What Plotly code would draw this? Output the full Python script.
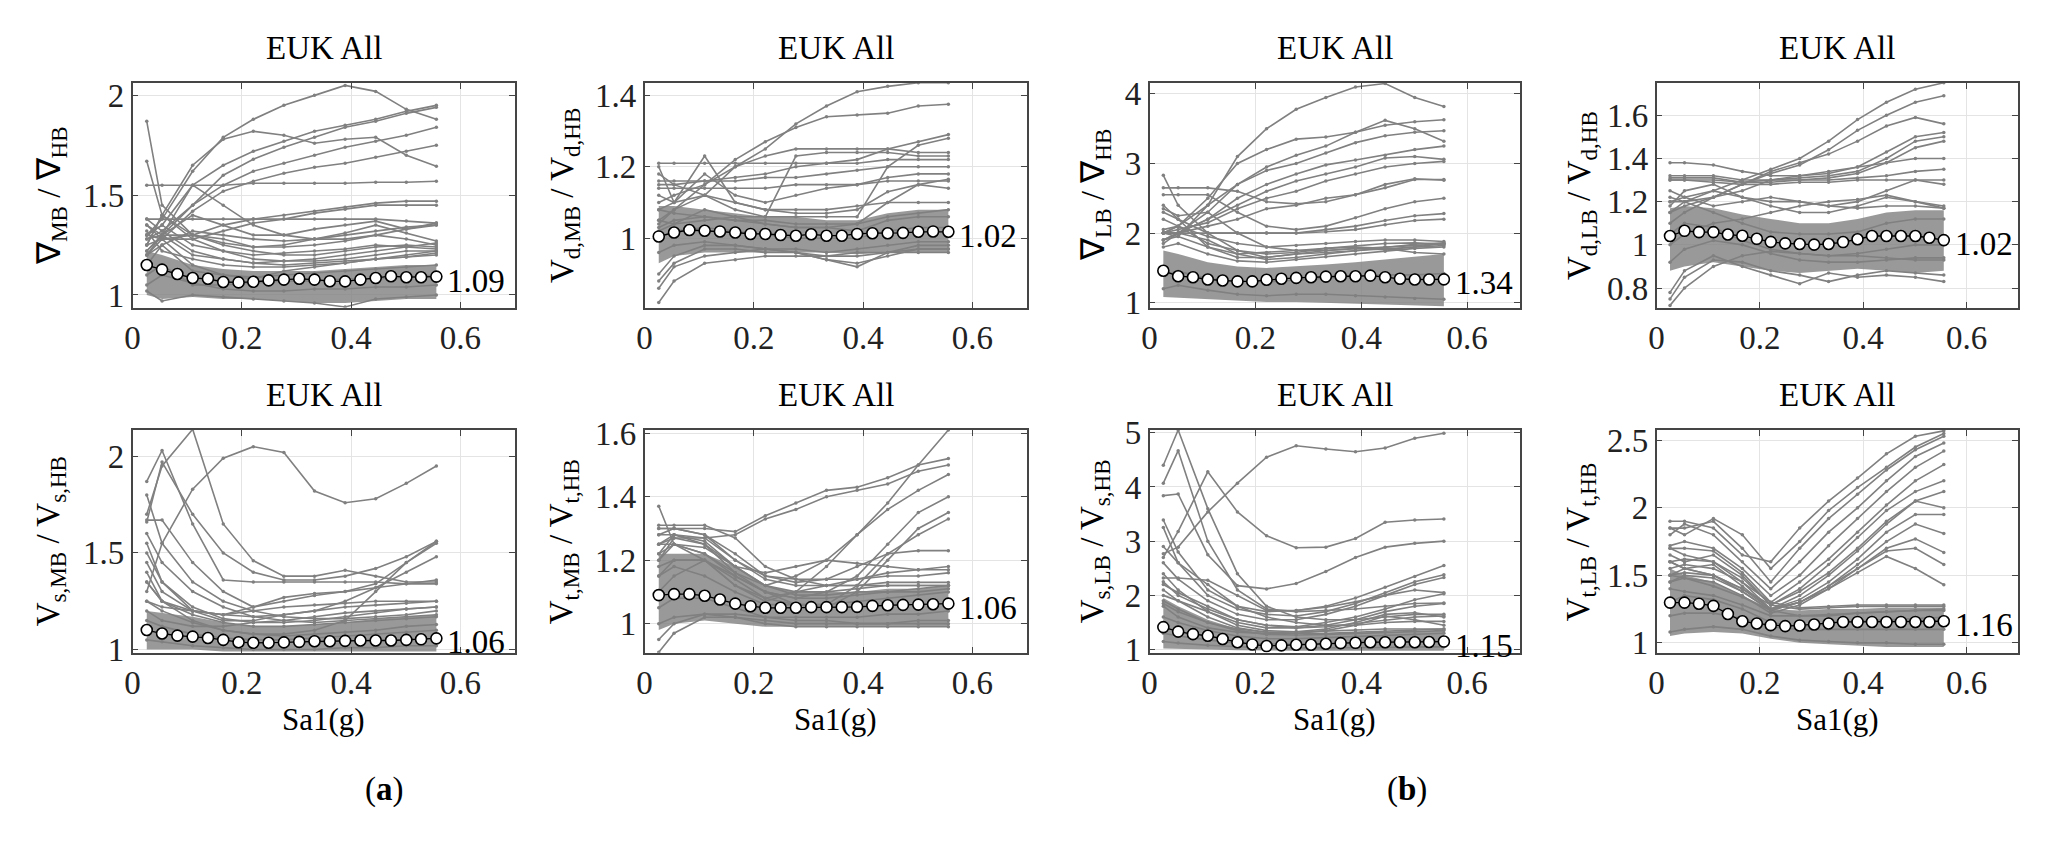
import plotly.graph_objects as go

# Sa1(g) levels of the median curve, and the subset used for the grey records
SA1 = [0.026, 0.054, 0.082, 0.110, 0.138, 0.166, 0.194, 0.221, 0.249, 0.277,
       0.305, 0.333, 0.361, 0.389, 0.417, 0.445, 0.473, 0.501, 0.528, 0.556]
SA1_SUB = [0.026, 0.054, 0.110, 0.166, 0.221, 0.277, 0.333, 0.389, 0.445, 0.501, 0.556]

# ---- (a) top-left: nabla MB / nabla HB
p1_median = [1.150, 1.127, 1.105, 1.085, 1.081, 1.065, 1.063, 1.066, 1.073, 1.077,
             1.081, 1.077, 1.069, 1.068, 1.077, 1.085, 1.094, 1.089, 1.089, 1.092]
p1_lo = [1.00, 0.98, 0.99, 0.98, 0.98, 0.97, 0.96, 0.96, 0.97, 0.98, 0.98]
p1_hi = [1.22, 1.20, 1.15, 1.13, 1.12, 1.12, 1.12, 1.13, 1.14, 1.15, 1.15]
p1_curves = [
    [1.30, 1.38, 1.62, 1.79, 1.88, 1.95, 2.00, 2.05, 2.02, 1.93, 1.88],
    [1.30, 1.35, 1.55, 1.65, 1.72, 1.77, 1.82, 1.85, 1.88, 1.92, 1.95],
    [1.28, 1.32, 1.45, 1.60, 1.68, 1.74, 1.79, 1.84, 1.87, 1.91, 1.94],
    [1.25, 1.40, 1.65, 1.78, 1.82, 1.80, 1.76, 1.78, 1.79, 1.70, 1.645],
    [1.22, 1.30, 1.45, 1.55, 1.62, 1.66, 1.70, 1.74, 1.77, 1.80, 1.84],
    [1.20, 1.28, 1.42, 1.52, 1.57, 1.61, 1.64, 1.66, 1.69, 1.72, 1.75],
    [1.55, 1.55, 1.55, 1.55, 1.56, 1.56, 1.56, 1.56, 1.565, 1.565, 1.57],
    [1.35, 1.30, 1.30, 1.35, 1.38, 1.40, 1.42, 1.44, 1.46, 1.47, 1.47],
    [1.30, 1.28, 1.28, 1.32, 1.36, 1.38, 1.41, 1.43, 1.45, 1.45, 1.45],
    [1.38, 1.38, 1.38, 1.38, 1.38, 1.38, 1.38, 1.38, 1.38, 1.37, 1.36],
    [1.28, 1.30, 1.40, 1.35, 1.30, 1.30, 1.33, 1.35, 1.37, 1.33, 1.35],
    [1.87, 1.45, 1.30, 1.25, 1.22, 1.20, 1.20, 1.22, 1.24, 1.25, 1.24],
    [1.67, 1.40, 1.28, 1.22, 1.18, 1.17, 1.17, 1.18, 1.20, 1.22, 1.22],
    [1.20, 1.30, 1.55, 1.45, 1.35, 1.30, 1.28, 1.28, 1.30, 1.28, 1.25],
    [1.25, 1.28, 1.30, 1.28, 1.24, 1.25, 1.28, 1.31, 1.35, 1.31, 1.27],
    [1.30, 1.35, 1.25, 1.22, 1.20, 1.21, 1.22, 1.23, 1.25, 1.24, 1.23],
    [1.38, 1.32, 1.22, 1.18, 1.16, 1.17, 1.18, 1.20, 1.22, 1.24, 1.26],
    [1.25, 1.40, 1.30, 1.26, 1.24, 1.24, 1.25, 1.27, 1.30, 1.33, 1.36],
    [1.20, 1.25, 1.32, 1.30, 1.28, 1.27, 1.28, 1.30, 1.32, 1.34, 1.35],
    [1.32, 1.22, 1.18, 1.15, 1.14, 1.14, 1.15, 1.16, 1.18, 1.19, 1.21],
    [1.22, 1.30, 1.20, 1.18, 1.16, 1.15, 1.16, 1.17, 1.18, 1.20, 1.22],
    [1.15, 1.25, 1.12, 1.10, 1.09, 1.10, 1.11, 1.12, 1.13, 1.14, 1.15],
    [1.05, 1.10, 1.06, 1.03, 1.02, 1.02, 1.03, 1.03, 1.04, 1.04, 1.05],
    [1.02, 0.97, 1.00, 0.99, 0.98, 0.97, 0.96, 0.94, 0.98, 0.99, 1.00],
    [1.35, 1.28, 1.15, 1.10, 1.08, 1.12, 1.14, 1.16, 1.18, 1.19, 1.20],
    [1.10, 1.15, 1.05, 1.05, 1.06, 1.07, 1.07, 1.08, 1.08, 1.09, 1.10],
]

# ---- (a) top-right: Vd MB / Vd HB
p2_median = [1.005, 1.016, 1.023, 1.021, 1.019, 1.016, 1.012, 1.012, 1.009, 1.007,
             1.011, 1.007, 1.007, 1.012, 1.014, 1.014, 1.015, 1.018, 1.019, 1.018]
p2_lo = [0.93, 0.95, 0.96, 0.96, 0.96, 0.96, 0.96, 0.955, 0.96, 0.96, 0.96]
p2_hi = [1.09, 1.09, 1.08, 1.07, 1.06, 1.06, 1.05, 1.05, 1.07, 1.08, 1.08]
p2_curves = [
    [1.05, 1.08, 1.12, 1.20, 1.25, 1.32, 1.37, 1.41, 1.425, 1.435, 1.435],
    [1.04, 1.08, 1.15, 1.22, 1.27, 1.31, 1.34, 1.345, 1.35, 1.37, 1.375],
    [1.15, 1.15, 1.16, 1.17, 1.18, 1.20, 1.21, 1.22, 1.25, 1.27, 1.29],
    [1.02, 1.04, 1.05, 1.06, 1.06, 1.06, 1.06, 1.06, 1.20, 1.26, 1.28],
    [1.10, 1.12, 1.15, 1.20, 1.23, 1.25, 1.25, 1.25, 1.25, 1.24, 1.24],
    [1.21, 1.21, 1.21, 1.21, 1.21, 1.21, 1.21, 1.21, 1.22, 1.22, 1.22],
    [1.16, 1.16, 1.16, 1.16, 1.17, 1.17, 1.18, 1.19, 1.20, 1.20, 1.20],
    [1.14, 1.14, 1.14, 1.14, 1.14, 1.15, 1.15, 1.15, 1.16, 1.16, 1.16],
    [1.20, 1.10, 1.23, 1.10, 1.08, 1.07, 1.07, 1.08, 1.13, 1.15, 1.14],
    [1.03, 1.05, 1.06, 1.05, 1.04, 1.03, 1.03, 1.04, 1.10, 1.15, 1.165],
    [1.08, 1.10, 1.12, 1.08, 1.06, 1.23, 1.24, 1.24, 1.24, 1.23, 1.23],
    [1.18, 1.15, 1.12, 1.10, 1.08, 1.08, 1.08, 1.09, 1.10, 1.10, 1.10],
    [1.12, 1.10, 1.18, 1.12, 1.10, 1.12, 1.14, 1.15, 1.17, 1.18, 1.18],
    [0.82, 0.88, 0.93, 0.94, 0.95, 0.95, 0.95, 0.96, 0.96, 0.96, 0.96],
    [0.86, 0.92, 0.95, 0.96, 0.97, 0.96, 0.94, 0.93, 0.95, 0.97, 0.97],
    [0.88, 0.93, 0.97, 0.97, 0.96, 0.96, 0.95, 0.95, 0.96, 0.97, 0.97],
    [0.90, 0.95, 0.98, 0.98, 0.97, 0.96, 0.94, 0.92, 0.96, 0.98, 0.98],
    [1.08, 1.07, 1.06, 1.05, 1.05, 1.04, 1.04, 1.04, 1.06, 1.07, 1.08],
    [1.00, 1.02, 1.03, 1.02, 1.01, 1.00, 1.00, 1.00, 1.02, 1.03, 1.03],
    [0.96, 0.98, 0.99, 0.98, 0.97, 0.97, 0.96, 0.97, 0.98, 0.99, 0.99],
    [1.05, 1.04, 1.08, 1.06, 1.04, 1.03, 1.03, 1.02, 1.05, 1.06, 1.06],
]

# ---- (b) top-left: nabla LB / nabla HB
p3_median = [1.458, 1.380, 1.366, 1.333, 1.319, 1.306, 1.306, 1.329, 1.343, 1.356,
             1.366, 1.375, 1.380, 1.380, 1.389, 1.366, 1.343, 1.333, 1.333, 1.335]
p3_lo = [1.08, 1.07, 1.05, 1.02, 1.01, 1.01, 1.00, 0.99, 0.97, 0.96, 0.95]
p3_hi = [1.75, 1.70, 1.58, 1.52, 1.50, 1.52, 1.55, 1.58, 1.62, 1.65, 1.70]
p3_curves = [
    [2.00, 1.95, 2.40, 3.10, 3.50, 3.78, 3.95, 4.10, 4.15, 3.95, 3.82],
    [2.00, 2.10, 2.50, 3.00, 3.20, 3.35, 3.38, 3.45, 3.55, 3.60, 3.63],
    [1.90, 2.00, 2.30, 2.70, 2.95, 3.12, 3.25, 3.45, 3.62, 3.50, 3.32],
    [2.00, 2.10, 2.40, 2.70, 2.90, 3.00, 3.15, 3.30, 3.40, 3.45, 3.47],
    [1.90, 2.00, 2.20, 2.50, 2.70, 2.85, 2.98, 3.05, 3.12, 3.20, 3.25],
    [1.85, 2.00, 2.20, 2.40, 2.60, 2.75, 2.85, 2.95, 3.08, 3.10, 3.06],
    [2.00, 2.05, 2.15, 2.35, 2.50, 2.60, 2.75, 2.85, 2.95, 3.00, 3.03],
    [2.00, 2.00, 2.10, 2.20, 2.35, 2.40, 2.50, 2.55, 2.65, 2.77, 2.77],
    [2.65, 2.65, 2.65, 2.60, 2.45, 2.42, 2.45, 2.55, 2.70, 2.78, 2.76],
    [2.55, 2.55, 2.55, 2.30, 2.10, 2.05, 2.10, 2.22, 2.35, 2.45, 2.50],
    [2.00, 2.00, 2.00, 2.00, 2.00, 2.00, 2.05, 2.10, 2.18, 2.25, 2.28],
    [2.30, 2.20, 2.00, 2.00, 2.00, 2.00, 2.02, 2.05, 2.12, 2.18, 2.20],
    [2.83, 2.40, 2.00, 1.75, 1.65, 1.70, 1.72, 1.75, 1.78, 1.80, 1.85],
    [2.35, 2.25, 2.30, 2.00, 1.80, 1.75, 1.75, 1.78, 1.80, 1.82, 1.85],
    [2.20, 2.10, 1.95, 1.85, 1.80, 1.82, 1.85, 1.88, 1.90, 1.90, 1.88],
    [1.80, 1.85, 1.70, 1.60, 1.58, 1.62, 1.66, 1.70, 1.74, 1.78, 1.80],
    [2.40, 2.20, 1.80, 1.70, 1.72, 1.75, 1.78, 1.82, 1.85, 1.86, 1.84],
    [2.00, 2.00, 1.90, 1.70, 1.62, 1.65, 1.70, 1.75, 1.80, 1.84, 1.86],
    [1.90, 1.95, 1.80, 1.65, 1.65, 1.70, 1.75, 1.78, 1.76, 1.80, 1.82],
    [1.40, 1.45, 1.35, 1.30, 1.30, 1.32, 1.35, 1.38, 1.40, 1.40, 1.42],
    [1.20, 1.25, 1.18, 1.12, 1.10, 1.12, 1.12, 1.10, 1.08, 1.06, 1.05],
    [2.05, 2.10, 1.85, 1.75, 1.70, 1.72, 1.78, 1.80, 1.78, 1.72, 1.70],
]

# ---- (b) top-right: Vd LB / Vd HB
p4_median = [1.041, 1.065, 1.059, 1.059, 1.048, 1.042, 1.028, 1.014, 1.007, 1.004,
             1.001, 1.004, 1.013, 1.026, 1.041, 1.041, 1.041, 1.041, 1.033, 1.022]
p4_lo = [0.88, 0.90, 0.92, 0.90, 0.88, 0.87, 0.88, 0.89, 0.88, 0.87, 0.88]
p4_hi = [1.17, 1.18, 1.17, 1.14, 1.12, 1.10, 1.10, 1.12, 1.15, 1.16, 1.16]
p4_curves = [
    [1.20, 1.22, 1.25, 1.30, 1.35, 1.40, 1.48, 1.58, 1.66, 1.72, 1.75],
    [1.15, 1.18, 1.22, 1.28, 1.33, 1.37, 1.44, 1.53, 1.60, 1.66, 1.69],
    [1.10, 1.15, 1.22, 1.28, 1.34, 1.38, 1.42, 1.48, 1.55, 1.59, 1.56],
    [1.38, 1.38, 1.37, 1.34, 1.32, 1.32, 1.33, 1.36, 1.43, 1.50, 1.52],
    [1.32, 1.32, 1.32, 1.30, 1.30, 1.31, 1.32, 1.34, 1.40, 1.48, 1.50],
    [1.30, 1.30, 1.30, 1.29, 1.30, 1.30, 1.31, 1.33, 1.38, 1.45, 1.48],
    [1.20, 1.20, 1.22, 1.25, 1.30, 1.32, 1.34, 1.36, 1.38, 1.40, 1.40],
    [1.31, 1.31, 1.31, 1.29, 1.29, 1.30, 1.30, 1.31, 1.32, 1.34, 1.35],
    [1.30, 1.30, 1.29, 1.28, 1.28, 1.29, 1.29, 1.30, 1.30, 1.30, 1.30],
    [1.15, 1.20, 1.25, 1.22, 1.20, 1.20, 1.18, 1.20, 1.25, 1.30, 1.28],
    [1.25, 1.22, 1.18, 1.20, 1.22, 1.20, 1.18, 1.17, 1.18, 1.18, 1.17],
    [1.18, 1.25, 1.28, 1.22, 1.18, 1.15, 1.15, 1.18, 1.22, 1.20, 1.17],
    [0.72, 0.80, 0.90, 0.95, 0.97, 0.96, 0.95, 0.95, 0.94, 0.93, 0.93],
    [0.75, 0.85, 0.93, 0.92, 0.88, 0.86, 0.83, 0.86, 0.88, 0.87, 0.86],
    [0.78, 0.88, 0.95, 0.90, 0.86, 0.82, 0.87, 0.85, 0.86, 0.85, 0.83],
    [1.00, 1.05, 1.10, 1.12, 1.15, 1.18, 1.20, 1.21, 1.23, 1.20, 1.18],
    [1.22, 1.20, 1.15, 1.10, 1.06, 1.05, 1.05, 1.06, 1.10, 1.12, 1.12],
    [1.05, 1.10, 1.08, 1.02, 0.98, 0.96, 0.95, 0.96, 0.98, 1.00, 1.00],
    [0.92, 0.98, 1.02, 1.00, 0.96, 0.93, 0.92, 0.92, 0.93, 0.94, 0.94],
]

# ---- (a) bottom-left: Vs MB / Vs HB
p5_median = [1.101, 1.083, 1.072, 1.067, 1.060, 1.050, 1.038, 1.035, 1.035, 1.037,
             1.040, 1.043, 1.043, 1.045, 1.047, 1.047, 1.047, 1.050, 1.053, 1.058]
p5_lo = [1.00, 1.00, 1.00, 0.99, 0.99, 0.99, 0.99, 0.99, 0.99, 0.99, 0.99]
p5_hi = [1.20, 1.19, 1.17, 1.14, 1.12, 1.12, 1.13, 1.14, 1.16, 1.17, 1.18]
p5_curves = [
    [1.30, 1.55, 1.83, 1.99, 2.05, 2.02, 1.82, 1.76, 1.78, 1.86, 1.95],
    [1.70, 1.95, 2.14, 1.65, 1.46, 1.38, 1.38, 1.41, 1.38, 1.35, 1.35],
    [1.87, 2.03, 1.65, 1.36, 1.35, 1.35, 1.35, 1.35, 1.35, 1.34, 1.34],
    [1.66, 1.97, 1.70, 1.50, 1.40, 1.36, 1.36, 1.38, 1.42, 1.48, 1.56],
    [1.67, 1.67, 1.45, 1.30, 1.22, 1.25, 1.28, 1.30, 1.34, 1.45, 1.55],
    [1.40, 1.25, 1.15, 1.10, 1.08, 1.08, 1.10, 1.15, 1.30, 1.45, 1.56],
    [1.55, 1.35, 1.20, 1.15, 1.15, 1.18, 1.20, 1.25, 1.32, 1.40, 1.48],
    [1.45, 1.30, 1.20, 1.18, 1.22, 1.27, 1.29, 1.30, 1.32, 1.34, 1.36],
    [1.35, 1.25, 1.20, 1.18, 1.20, 1.22, 1.23, 1.24, 1.25, 1.25, 1.25],
    [1.80, 1.55, 1.35, 1.25, 1.20, 1.17, 1.16, 1.16, 1.17, 1.18, 1.20],
    [1.60, 1.45, 1.30, 1.22, 1.17, 1.15, 1.14, 1.15, 1.16, 1.17, 1.18],
    [1.25, 1.22, 1.20, 1.18, 1.17, 1.18, 1.20, 1.22, 1.23, 1.24, 1.25],
    [1.50, 1.35, 1.22, 1.16, 1.14, 1.14, 1.15, 1.17, 1.19, 1.21, 1.22],
    [1.20, 1.15, 1.12, 1.12, 1.14, 1.15, 1.17, 1.19, 1.20, 1.21, 1.22],
    [1.35, 1.25, 1.18, 1.14, 1.12, 1.12, 1.13, 1.14, 1.15, 1.16, 1.17],
    [1.15, 1.12, 1.08, 1.06, 1.05, 1.05, 1.06, 1.07, 1.08, 1.09, 1.10],
    [1.05, 1.04, 1.02, 1.01, 1.00, 1.00, 1.00, 1.01, 1.01, 1.02, 1.02],
    [1.25, 1.20, 1.14, 1.10, 1.08, 1.07, 1.08, 1.09, 1.10, 1.12, 1.13],
]

# ---- (a) bottom-right: Vt MB / Vt HB
p6_median = [1.090, 1.093, 1.093, 1.088, 1.076, 1.063, 1.055, 1.050, 1.050, 1.050,
             1.052, 1.052, 1.052, 1.053, 1.056, 1.058, 1.059, 1.060, 1.061, 1.063]
p6_lo = [0.98, 1.00, 1.01, 1.00, 0.99, 0.99, 0.99, 0.99, 0.99, 0.99, 0.99]
p6_hi = [1.22, 1.22, 1.22, 1.18, 1.12, 1.10, 1.10, 1.10, 1.11, 1.11, 1.12]
p6_curves = [
    [1.30, 1.30, 1.30, 1.29, 1.34, 1.38, 1.42, 1.43, 1.46, 1.50, 1.52],
    [1.28, 1.28, 1.27, 1.28, 1.33, 1.36, 1.40, 1.42, 1.44, 1.48, 1.50],
    [1.15, 1.20, 1.20, 1.12, 1.07, 1.10, 1.18, 1.28, 1.38, 1.50, 1.61],
    [1.25, 1.28, 1.26, 1.18, 1.12, 1.15, 1.20, 1.28, 1.36, 1.42, 1.47],
    [1.20, 1.25, 1.22, 1.15, 1.10, 1.08, 1.10, 1.15, 1.25, 1.35, 1.40],
    [1.22, 1.28, 1.25, 1.16, 1.10, 1.06, 1.05, 1.10, 1.20, 1.30, 1.35],
    [1.18, 1.20, 1.20, 1.14, 1.08, 1.06, 1.06, 1.12, 1.22, 1.28, 1.33],
    [1.30, 1.30, 1.28, 1.20, 1.15, 1.13, 1.14, 1.18, 1.22, 1.23, 1.23],
    [1.10, 1.15, 1.20, 1.12, 1.08, 1.10, 1.12, 1.14, 1.16, 1.17, 1.18],
    [1.37, 1.25, 1.20, 1.15, 1.10, 1.08, 1.08, 1.09, 1.10, 1.11, 1.12],
    [1.28, 1.30, 1.28, 1.22, 1.15, 1.14, 1.14, 1.14, 1.15, 1.15, 1.16],
    [1.25, 1.27, 1.27, 1.20, 1.14, 1.12, 1.12, 1.12, 1.13, 1.13, 1.13],
    [1.22, 1.25, 1.22, 1.16, 1.12, 1.10, 1.10, 1.11, 1.12, 1.12, 1.12],
    [1.20, 1.27, 1.25, 1.18, 1.16, 1.18, 1.20, 1.19, 1.18, 1.17, 1.17],
    [0.91, 0.97, 1.02, 1.02, 1.01, 1.00, 1.00, 1.00, 1.00, 1.00, 1.00],
    [0.95, 1.00, 1.03, 1.03, 1.02, 1.01, 1.01, 1.00, 1.00, 1.01, 1.01],
    [1.31, 1.31, 1.31, 1.27, 1.18, 1.14, 1.12, 1.12, 1.12, 1.12, 1.12],
    [1.15, 1.18, 1.15, 1.10, 1.06, 1.06, 1.06, 1.07, 1.08, 1.09, 1.10],
    [1.05, 1.08, 1.08, 1.05, 1.02, 1.02, 1.02, 1.02, 1.03, 1.03, 1.04],
    [1.25, 1.25, 1.24, 1.18, 1.12, 1.09, 1.09, 1.10, 1.10, 1.10, 1.11],
    [1.00, 1.02, 1.03, 1.02, 1.00, 0.99, 0.99, 0.99, 0.99, 0.99, 0.99],
]

# ---- (b) bottom-left: Vs LB / Vs HB
p7_median = [1.415, 1.332, 1.285, 1.255, 1.196, 1.136, 1.095, 1.065, 1.077, 1.089,
             1.089, 1.107, 1.119, 1.125, 1.136, 1.136, 1.136, 1.136, 1.140, 1.148]
p7_lo = [1.02, 1.01, 1.00, 0.99, 0.98, 0.98, 0.98, 0.98, 0.98, 0.98, 0.98]
p7_hi = [1.95, 1.80, 1.55, 1.38, 1.30, 1.28, 1.28, 1.30, 1.32, 1.33, 1.35]
p7_curves = [
    [2.77, 2.89, 3.54, 4.07, 4.55, 4.76, 4.70, 4.65, 4.72, 4.90, 4.99],
    [4.40, 5.05, 3.60, 2.40, 1.80, 1.60, 1.55, 1.55, 1.60, 1.65, 1.65],
    [4.07, 4.67, 3.00, 2.10, 1.75, 1.70, 1.72, 1.75, 1.80, 1.85, 1.86],
    [2.70, 3.18, 4.28, 3.54, 3.10, 2.88, 2.89, 3.05, 3.35, 3.39, 3.41],
    [3.84, 3.87, 2.75, 2.18, 2.12, 2.22, 2.44, 2.70, 2.89, 2.96, 3.00],
    [3.39, 2.80, 2.10, 1.80, 1.70, 1.72, 1.80, 1.95, 2.15, 2.35, 2.55],
    [3.25, 2.60, 2.00, 1.75, 1.65, 1.62, 1.70, 1.85, 2.05, 2.25, 2.38],
    [2.60, 2.30, 1.90, 1.65, 1.55, 1.55, 1.65, 1.80, 2.00, 2.20, 2.33],
    [2.32, 2.32, 2.28, 2.00, 1.72, 1.72, 1.78, 1.88, 2.00, 2.10, 2.05],
    [2.20, 2.05, 1.80, 1.55, 1.45, 1.42, 1.50, 1.60, 1.75, 1.92, 2.03],
    [2.00, 1.90, 1.70, 1.50, 1.40, 1.40, 1.45, 1.55, 1.70, 1.80, 1.85],
    [1.85, 1.70, 1.50, 1.38, 1.32, 1.33, 1.38, 1.50, 1.65, 1.68, 1.60],
    [1.80, 1.60, 1.40, 1.32, 1.30, 1.30, 1.35, 1.45, 1.62, 1.55, 1.45],
    [2.90, 2.60, 2.20, 1.80, 1.60, 1.50, 1.45, 1.45, 1.50, 1.52, 1.52],
    [2.40, 2.10, 1.70, 1.45, 1.35, 1.33, 1.34, 1.36, 1.38, 1.38, 1.38],
    [1.90, 1.75, 1.50, 1.35, 1.28, 1.27, 1.28, 1.30, 1.32, 1.34, 1.35],
    [2.25, 2.00, 1.75, 1.55, 1.45, 1.40, 1.42, 1.48, 1.55, 1.60, 1.62],
    [1.60, 1.50, 1.35, 1.25, 1.20, 1.20, 1.22, 1.24, 1.26, 1.28, 1.30],
    [1.30, 1.25, 1.18, 1.12, 1.10, 1.10, 1.11, 1.12, 1.13, 1.14, 1.15],
    [1.15, 1.12, 1.08, 1.05, 1.03, 1.03, 1.03, 1.04, 1.04, 1.05, 1.05],
    [2.10, 1.90, 1.60, 1.40, 1.32, 1.30, 1.30, 1.32, 1.34, 1.36, 1.38],
]

# ---- (b) bottom-right: Vt LB / Vt HB
p8_median = [1.298, 1.298, 1.290, 1.274, 1.214, 1.160, 1.143, 1.131, 1.124, 1.129,
             1.136, 1.143, 1.155, 1.155, 1.155, 1.155, 1.155, 1.155, 1.155, 1.160]
p8_lo = [1.05, 1.07, 1.08, 1.07, 1.03, 1.00, 0.99, 0.98, 0.97, 0.97, 0.97]
p8_hi = [1.55, 1.50, 1.45, 1.35, 1.25, 1.24, 1.25, 1.25, 1.26, 1.26, 1.26]
p8_curves = [
    [1.90, 1.90, 1.85, 1.65, 1.60, 1.85, 2.05, 2.22, 2.40, 2.53, 2.57],
    [1.85, 1.85, 1.90, 1.70, 1.45, 1.70, 1.92, 2.10, 2.28, 2.43, 2.53],
    [1.80, 1.88, 1.80, 1.60, 1.40, 1.60, 1.82, 2.00, 2.20, 2.38, 2.48],
    [1.72, 1.75, 1.70, 1.55, 1.35, 1.50, 1.72, 1.92, 2.12, 2.30, 2.42],
    [1.70, 1.70, 1.68, 1.52, 1.30, 1.45, 1.62, 1.82, 2.02, 2.20, 2.32],
    [1.65, 1.60, 1.65, 1.50, 1.28, 1.40, 1.58, 1.78, 1.98, 2.12, 2.20],
    [1.60, 1.62, 1.60, 1.48, 1.28, 1.38, 1.52, 1.70, 1.90, 2.05, 2.12],
    [1.55, 1.58, 1.55, 1.45, 1.25, 1.35, 1.50, 1.68, 1.88, 2.05, 2.00],
    [1.60, 1.55, 1.58, 1.42, 1.25, 1.32, 1.45, 1.62, 1.82, 1.95, 1.95],
    [1.50, 1.55, 1.50, 1.40, 1.25, 1.30, 1.42, 1.58, 1.75, 1.88, 1.81],
    [1.45, 1.50, 1.48, 1.38, 1.24, 1.30, 1.40, 1.55, 1.70, 1.77, 1.67],
    [1.50, 1.52, 1.50, 1.38, 1.24, 1.30, 1.42, 1.55, 1.68, 1.70, 1.58],
    [1.45, 1.48, 1.45, 1.35, 1.22, 1.28, 1.40, 1.52, 1.64, 1.55, 1.43],
    [1.85, 1.80, 1.92, 1.80, 1.55, 1.75, 1.98, 2.15, 2.30, 2.45, 2.55],
    [1.60, 1.55, 1.50, 1.40, 1.28, 1.25, 1.26, 1.27, 1.27, 1.27, 1.27],
    [1.50, 1.48, 1.42, 1.34, 1.24, 1.20, 1.20, 1.22, 1.23, 1.24, 1.24],
    [1.70, 1.65, 1.60, 1.45, 1.30, 1.26, 1.27, 1.28, 1.28, 1.28, 1.28],
    [1.40, 1.38, 1.35, 1.28, 1.20, 1.20, 1.21, 1.22, 1.23, 1.24, 1.25],
    [1.20, 1.22, 1.22, 1.18, 1.12, 1.10, 1.10, 1.10, 1.10, 1.10, 1.10],
    [1.08, 1.10, 1.12, 1.10, 1.05, 1.02, 1.01, 1.00, 1.00, 0.99, 0.99],
    [1.30, 1.35, 1.32, 1.25, 1.15, 1.12, 1.14, 1.16, 1.17, 1.18, 1.19],
]

# text labels
y_titles = ['\u2207<sub>MB</sub> / \u2207<sub>HB</sub>', 'V<sub>d,MB</sub> / V<sub>d,HB</sub>',
            '\u2207<sub>LB</sub> / \u2207<sub>HB</sub>', 'V<sub>d,LB</sub> / V<sub>d,HB</sub>',
            'V<sub>s,MB</sub> / V<sub>s,HB</sub>', 'V<sub>t,MB</sub> / V<sub>t,HB</sub>',
            'V<sub>s,LB</sub> / V<sub>s,HB</sub>', 'V<sub>t,LB</sub> / V<sub>t,HB</sub>']
end_labels = ['1.09', '1.02', '1.34', '1.02', '1.06', '1.06', '1.15', '1.16']
y_ticks = [[1, 1.5, 2], [1, 1.2, 1.4], [1, 2, 3, 4], [0.8, 1, 1.2, 1.4, 1.6],
           [1, 1.5, 2], [1, 1.2, 1.4, 1.6], [1, 2, 3, 4, 5], [1, 1.5, 2, 2.5]]
y_ranges = [[0.937, 2.063], [0.806, 1.435], [0.93, 4.16], [0.71, 1.75],
            [0.983, 2.136], [0.908, 1.61], [0.94, 5.05], [0.926, 2.576]]

medians = [p1_median, p2_median, p3_median, p4_median, p5_median, p6_median, p7_median, p8_median]
lows = [p1_lo, p2_lo, p3_lo, p4_lo, p5_lo, p6_lo, p7_lo, p8_lo]
highs = [p1_hi, p2_hi, p3_hi, p4_hi, p5_hi, p6_hi, p7_hi, p8_hi]
curves = [p1_curves, p2_curves, p3_curves, p4_curves, p5_curves, p6_curves, p7_curves, p8_curves]

W, H = 2054, 846
# plot boxes in pixels
col_px = [(117, 501), (631, 1015), (1138, 1510), (1647, 2010)]
row_px = [(62, 295), (422, 653)]
ytitle_x = [35, 550, 1083, 1571]

FONT = 'Liberation Serif'
GREY = 'rgb(128,128,128)'

fig = go.Figure()
annotations = []
layout = {}

for i in range(8):
    r, c = divmod(i, 4)
    n = '' if i == 0 else str(i + 1)
    xa, ya = 'x' + n, 'y' + n

    # dense core of the records
    fig.add_trace(go.Scatter(x=SA1_SUB, y=lows[i], mode='lines', line=dict(width=0, color=GREY),
                             xaxis=xa, yaxis=ya, showlegend=False, hoverinfo='skip'))
    fig.add_trace(go.Scatter(x=SA1_SUB, y=highs[i], mode='lines', line=dict(width=0, color=GREY),
                             fill='tonexty', fillcolor='rgba(128,128,128,0.8)',
                             xaxis=xa, yaxis=ya, showlegend=False, hoverinfo='skip'))
    for cv in curves[i]:
        fig.add_trace(go.Scatter(x=SA1_SUB, y=cv, mode='lines+markers',
                                 line=dict(color=GREY, width=1.6),
                                 marker=dict(size=3.5, color=GREY),
                                 xaxis=xa, yaxis=ya, showlegend=False))
    fig.add_trace(go.Scatter(x=SA1, y=medians[i], mode='lines+markers',
                             line=dict(color='black', width=1.3),
                             marker=dict(size=11, color='white', line=dict(color='black', width=1.6)),
                             xaxis=xa, yaxis=ya, showlegend=False))

    x0, x1 = col_px[c]
    y0, y1 = row_px[r]
    axis_common = dict(showline=True, linecolor='#454545', linewidth=1.5, mirror='ticks',
                       ticks='inside', ticklen=6, tickcolor='#454545', tickwidth=1,
                       showgrid=True, gridcolor='#e4e4e4', gridwidth=1, zeroline=False,
                       tickfont=dict(family=FONT, size=33, color='#222222'))
    layout['xaxis' + n] = dict(axis_common, domain=[x0 / W, x1 / W], anchor=ya, range=[0, 0.7],
                               tickvals=[0, 0.2, 0.4, 0.6], ticktext=['0', '0.2', '0.4', '0.6'])
    layout['yaxis' + n] = dict(axis_common, domain=[1 - y1 / H, 1 - y0 / H], anchor=xa,
                               range=y_ranges[i], tickvals=y_ticks[i],
                               ticktext=[('%g' % v) for v in y_ticks[i]])

    # panel title
    annotations.append(dict(text='EUK All', x=(x0 + x1) / 2 / W, y=1 - (y0 - 36) / H,
                            xref='paper', yref='paper', showarrow=False,
                            xanchor='center', yanchor='middle',
                            font=dict(family=FONT, size=33, color='black')))
    # y axis title
    annotations.append(dict(text=y_titles[i], x=ytitle_x[c] / W, y=1 - (y0 + y1) / 2 / H,
                            xref='paper', yref='paper', showarrow=False, textangle=-90,
                            xanchor='center', yanchor='middle',
                            font=dict(family=FONT, size=33, color='black')))
    # median value at the end of the curve
    annotations.append(dict(text=end_labels[i], x=SA1[-1], y=medians[i][-1], xref=xa, yref=ya,
                            showarrow=False, xanchor='left', yanchor='middle', xshift=9, yshift=-4,
                            font=dict(family=FONT, size=33, color='black')))
    if r == 1:
        annotations.append(dict(text='Sa1(g)', x=(x0 + x1) / 2 / W, y=1 - 722 / H,
                                xref='paper', yref='paper', showarrow=False,
                                xanchor='center', yanchor='middle',
                                font=dict(family=FONT, size=31, color='black')))

for lab, px in [('(<b>a</b>)', 370), ('(<b>b</b>)', 1396)]:
    annotations.append(dict(text=lab, x=px / W, y=1 - 795 / H, xref='paper', yref='paper',
                            showarrow=False, xanchor='center', yanchor='middle',
                            font=dict(family=FONT, size=33, color='black')))

fig.update_layout(**layout)
fig.update_layout(width=W, height=H, autosize=False, margin=dict(l=0, r=0, t=0, b=0),
                  paper_bgcolor='white', plot_bgcolor='white', annotations=annotations)

fig.write_html('out.html')
